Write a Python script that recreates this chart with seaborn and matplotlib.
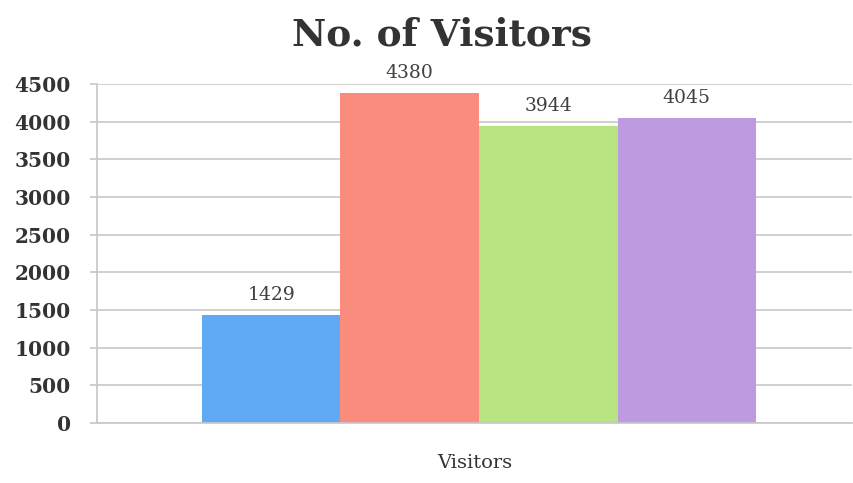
import matplotlib
matplotlib.use("Agg")
import matplotlib.pyplot as plt
import seaborn as sns
import pandas as pd

# data
category = ["Visitors"] * 4
series = ["A", "B", "C", "D"]
visitors = [1429, 4380, 3944, 4045]
colors = ["#60AAF5", "#FA8C7D", "#B7E480", "#BE9BE1"]

df = pd.DataFrame({"cat": category, "series": series, "value": visitors})

sns.set_theme(style="white")
plt.rcParams['font.family'] = ['DejaVu Serif']

fig = plt.figure(figsize=(8.54, 4.83), dpi=100)
ax = fig.add_axes([0.1136, 0.1242, 0.884, 0.7019])

sns.barplot(data=df, x="cat", y="value", hue="series", palette=colors,
            width=0.734, gap=0, legend=False, ax=ax, saturation=1, linewidth=0)

for c in ax.containers:
    ax.bar_label(c, labels=[str(int(v)) for v in c.datavalues], padding=8,
                 fontsize=13.5, color="#404040")

ax.set_ylim(0, 4500)
ax.set_yticks(range(0, 4501, 500))
ax.set_xlim(-0.506, 0.494)
ax.yaxis.grid(True, color="#c8c8c8", linewidth=1.2)
ax.set_axisbelow(True)
for s in ["top", "right"]:
    ax.spines[s].set_visible(False)
ax.spines["left"].set_color("#c8c8c8")
ax.spines["bottom"].set_color("#c8c8c8")
ax.tick_params(axis="y", left=True, length=5, color="#c8c8c8", labelsize=14.5,
               labelcolor="#333333", pad=14)
for t in ax.get_yticklabels():
    t.set_fontweight("bold")
ax.set_xticks([])
ax.set_xlabel("Visitors", fontsize=14, color="#333333", labelpad=22)
ax.set_ylabel("")
fig.suptitle("No. of Visitors", fontsize=27, fontweight="bold", color="#333333",
             x=0.518, y=0.965)

fig.savefig("out.png", dpi=100)
